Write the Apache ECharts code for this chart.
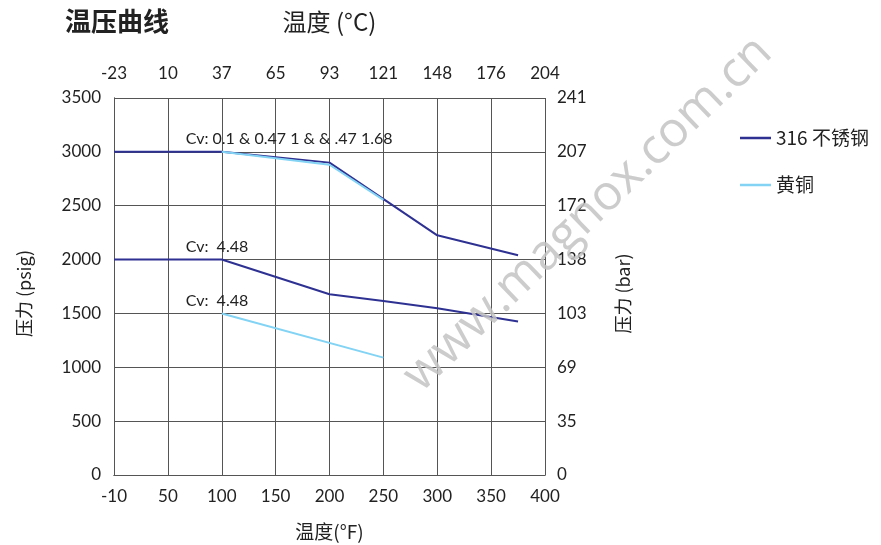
<!DOCTYPE html>
<html>
<head>
<meta charset="utf-8">
<script src="https://cdn.jsdelivr.net/npm/echarts@6/dist/echarts.min.js"></script>
<style>html,body{margin:0;padding:0;background:#fff}#c{width:881px;height:545px}</style>
</head>
<body>
<div id="c"></div>
<script>
// ---- data ----
const fTicks = [-10, 50, 100, 150, 200, 250, 300, 350, 400];
const cTicks = [-23, 10, 37, 65, 93, 121, 148, 176, 204];
const psigTicks = [0, 500, 1000, 1500, 2000, 2500, 3000, 3500];
const barTicks = [0, 35, 69, 103, 138, 172, 207, 241];

const ssHighF = [-10, 100, 200, 300, 375];
const ssHighP = [3000, 3000, 2900, 2225, 2040];
const ssLowF = [-10, 100, 200, 250, 300, 375];
const ssLowP = [2000, 2000, 1678, 1615, 1548, 1425];
const brHighF = [100, 200, 250];
const brHighP = [3000, 2880, 2555];
const brLowF = [100, 250];
const brLowP = [1500, 1090];

const notes = ['Cv: 0.1 & 0.47 1 & & .47 1.68', 'Cv:  4.48', 'Cv:  4.48'];
const noteAt = [[100, 3000], [100, 2000], [100, 1500]];

const seriesNames = ['316 不锈钢', '黄铜'];
const colors = ['#2e3192', '#82d3f4'];

// piecewise axis scale: tick index from °F (ticks are evenly spaced on the chart)
function fIdx(f) {
  for (let i = 0; i < fTicks.length - 1; i++) {
    if (f <= fTicks[i + 1]) return i + (f - fTicks[i]) / (fTicks[i + 1] - fTicks[i]);
  }
  return fTicks.length - 1;
}
const pairs = (xs, ys) => xs.map((x, i) => [fIdx(x), ys[i]]);

const font = 'Lato, "Noto Sans CJK SC", sans-serif';
const cjk = '"Noto Sans CJK SC", sans-serif';
const gridLine = { lineStyle: { color: '#555', width: 1 } };

const chart = echarts.init(document.getElementById('c'));
const lineBase = (name, data, ci) => ({
  name, type: 'line', data, xAxisIndex: 0, yAxisIndex: 0,
  symbol: 'none', showSymbol: false, lineStyle: { color: colors[ci], width: 2 }, itemStyle: { color: colors[ci] },
  z: ci === 0 ? 3 : 4, animation: false
});

chart.setOption({
  animation: false,
  title: {
    text: '温压曲线', left: 60, top: 3,
    textStyle: { fontFamily: cjk, fontSize: 26, fontWeight: 'bold', color: '#222' }
  },
  legend: {
    data: seriesNames.map(n => ({ name: n, icon: 'rect' })), orient: 'vertical', left: 735, top: 123,
    itemWidth: 31, itemHeight: 2.5, itemGap: 27,
    textStyle: { fontFamily: cjk, fontSize: 19, color: '#222', lineHeight: 20 }
  },
  grid: { left: 114, right: 336, top: 98, bottom: 70, containLabel: false, outerBoundsMode: 'none' },
  xAxis: [{
    type: 'value', min: 0, max: fTicks.length - 1, interval: 1, position: 'bottom',
    name: '温度(°F)', nameLocation: 'middle', nameGap: 47,
    nameTextStyle: { fontFamily: cjk, fontSize: 19, color: '#222' },
    axisLine: gridLine, axisTick: { show: false }, splitLine: gridLine,
    axisLabel: { formatter: v => fTicks[v], fontFamily: font, fontSize: 17, color: '#222', margin: 13 }
  }, {
    type: 'value', min: 0, max: cTicks.length - 1, interval: 1, position: 'top',
    name: '温度 (°C)', nameLocation: 'middle', nameGap: 64,
    nameTextStyle: { fontFamily: cjk, fontSize: 24, color: '#222' },
    axisLine: gridLine, axisTick: { show: false }, splitLine: { show: false },
    axisLabel: { formatter: v => cTicks[v], fontFamily: font, fontSize: 17, color: '#222', margin: 16 }
  }],
  yAxis: [{
    type: 'value', min: 0, max: 3500, interval: 500, position: 'left',
    name: '压力 (psig)', nameLocation: 'middle', nameGap: 81, nameRotate: 90,
    nameTextStyle: { fontFamily: cjk, fontSize: 18, color: '#222', padding: [0, 14, 0, 0] },
    axisLine: { show: true, lineStyle: { color: '#555', width: 1 } }, axisTick: { show: false }, splitLine: gridLine,
    axisLabel: { formatter: v => psigTicks[v / 500], fontFamily: font, fontSize: 17, color: '#222', margin: 13 }
  }, {
    type: 'value', min: 0, max: 3500, interval: 500, position: 'right',
    name: '压力 (bar)', nameLocation: 'middle', nameGap: 69, nameRotate: 90,
    nameTextStyle: { fontFamily: cjk, fontSize: 18, color: '#222', padding: [0, 14, 0, 0] },
    axisLine: { show: true, lineStyle: { color: '#555', width: 1 } }, axisTick: { show: false }, splitLine: { show: false },
    axisLabel: { formatter: v => barTicks[v / 500], fontFamily: font, fontSize: 17, color: '#222', margin: 12 }
  }],
  series: [
    lineBase(seriesNames[0], pairs(ssHighF, ssHighP), 0),
    lineBase(seriesNames[0], pairs(ssLowF, ssLowP), 0),
    lineBase(seriesNames[1], pairs(brHighF, brHighP), 1),
    lineBase(seriesNames[1], pairs(brLowF, brLowP), 1)
  ]
});

// annotations and watermark
const gfx = notes.map((t, i) => {
  const p = chart.convertToPixel({ xAxisIndex: 0, yAxisIndex: 0 }, [fIdx(noteAt[i][0]), noteAt[i][1]]);
  return {
    type: 'text', x: p[0] - 36, y: p[1] - 5, z: 10,
    style: { text: t, fontFamily: font, fontSize: 16, fill: '#222', textVerticalAlign: 'bottom' }
  };
});
gfx.push({
  type: 'text', x: 588, y: 214, rotation: Math.atan2(350, 365), z: 20,
  style: { text: 'www.magnox.com.cn', fontFamily: '"Open Sans", sans-serif', fontSize: 49,
    fill: 'rgba(195,195,195,0.85)', align: 'center', verticalAlign: 'middle' }
});
chart.setOption({ graphic: gfx });
</script>
</body>
</html>
